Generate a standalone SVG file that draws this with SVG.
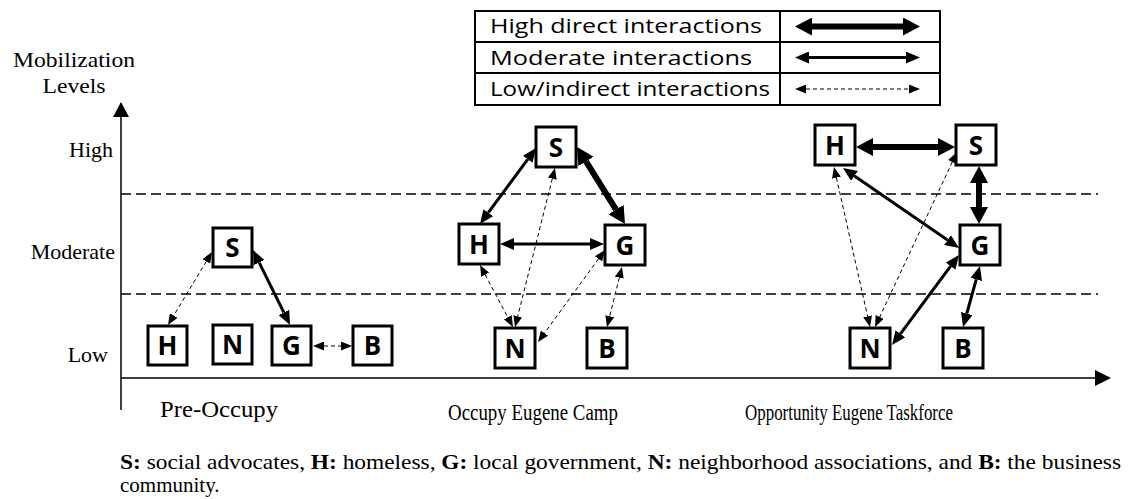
<svg xmlns="http://www.w3.org/2000/svg" width="1138" height="499" viewBox="0 0 1138 499">
<style>
.serif{font-family:"Liberation Serif","Times New Roman",serif;fill:#000}
.leg{font-family:"Open Sans","DejaVu Sans",sans-serif;font-size:20px;fill:#000}
.box{fill:#fff;stroke:#000;stroke-width:3}
.lbl{font-family:"Open Sans","DejaVu Sans",sans-serif;font-weight:bold;font-size:26px;text-anchor:middle;fill:#000}
.thin{stroke:#000;stroke-width:1;stroke-dasharray:4 3;fill:none;marker-start:url(#hThin);marker-end:url(#hThin)}
.med{stroke:#000;stroke-width:3;fill:none;marker-start:url(#hMed);marker-end:url(#hMed)}
.thick{stroke:#000;stroke-width:6;fill:none;marker-start:url(#hThick);marker-end:url(#hThick)}
.dash{stroke:#000;stroke-width:1.3;stroke-dasharray:10 5}
</style>
<defs>
<marker id="hThin" markerUnits="userSpaceOnUse" markerWidth="11" markerHeight="9" refX="0" refY="4.5" orient="auto-start-reverse"><path d="M0,0 L11,4.5 L0,9 z" fill="#000"/></marker>
<marker id="hMed" markerUnits="userSpaceOnUse" markerWidth="14" markerHeight="12" refX="0" refY="6" orient="auto-start-reverse"><path d="M0,0 L14,6 L0,12 z" fill="#000"/></marker>
<marker id="hThick" markerUnits="userSpaceOnUse" markerWidth="17" markerHeight="18" refX="0" refY="9" orient="auto-start-reverse"><path d="M0,0 L17,9 L0,18 z" fill="#000"/></marker>
</defs>
<rect width="1138" height="499" fill="#fff"/>

<g id="legend">
<rect x="475" y="11" width="465" height="94" fill="#fff" stroke="#000" stroke-width="2"/>
<line x1="475" y1="42" x2="940" y2="42" stroke="#000" stroke-width="2"/>
<line x1="475" y1="73" x2="940" y2="73" stroke="#000" stroke-width="2"/>
<line x1="780" y1="11" x2="780" y2="105" stroke="#000" stroke-width="2"/>
<text class="leg" x="490" y="33" textLength="272" lengthAdjust="spacingAndGlyphs">High direct interactions</text>
<text class="leg" x="490" y="65" textLength="262" lengthAdjust="spacingAndGlyphs">Moderate interactions</text>
<text class="leg" x="490" y="96" textLength="280" lengthAdjust="spacingAndGlyphs">Low/indirect interactions</text>
<line class="thick" x1="812" y1="26.5" x2="903" y2="26.5"/>
<line class="med" x1="809" y1="57.5" x2="906" y2="57.5"/>
<line class="thin" x1="806" y1="89" x2="909" y2="89"/>
</g>

<g id="axes">
<line x1="121" y1="116" x2="121" y2="410" stroke="#000" stroke-width="1.5"/>
<polygon points="121,102 113,117 129,117" fill="#000"/>
<line x1="121" y1="378" x2="1096" y2="378" stroke="#000" stroke-width="1.5"/>
<polygon points="1111,378 1095,370 1095,386" fill="#000"/>
<line class="dash" x1="121" y1="194" x2="1098" y2="194"/>
<line class="dash" x1="121" y1="294" x2="1098" y2="294"/>
<text class="serif" font-size="22" x="74" y="67" text-anchor="middle" textLength="122" lengthAdjust="spacingAndGlyphs">Mobilization</text>
<text class="serif" font-size="22" x="74" y="93" text-anchor="middle" textLength="63" lengthAdjust="spacingAndGlyphs">Levels</text>
<text class="serif" font-size="22" x="113" y="157" text-anchor="end">High</text>
<text class="serif" font-size="22" x="115" y="259" text-anchor="end">Moderate</text>
<text class="serif" font-size="22" x="108" y="362" text-anchor="end">Low</text>
<text class="serif" font-size="24" x="160" y="417" textLength="118" lengthAdjust="spacingAndGlyphs">Pre-Occupy</text>
<text class="serif" font-size="24" x="448" y="420" textLength="170" lengthAdjust="spacingAndGlyphs">Occupy Eugene Camp</text>
<text class="serif" font-size="24" x="745" y="420" textLength="208" lengthAdjust="spacingAndGlyphs">Opportunity Eugene Taskforce</text>
<text class="serif" font-size="21" x="120" y="469" textLength="1001" lengthAdjust="spacingAndGlyphs"><tspan font-weight="bold">S:</tspan> social advocates, <tspan font-weight="bold">H:</tspan> homeless, <tspan font-weight="bold">G:</tspan> local government, <tspan font-weight="bold">N:</tspan> neighborhood associations, and <tspan font-weight="bold">B:</tspan> the business</text>
<text class="serif" font-size="21" x="120" y="492">community.</text>
</g>

<g id="connectors">
<line class="thin" x1="206.3" y1="261.4" x2="173.7" y2="315.6"/>
<line class="med" x1="259.2" y1="262.6" x2="283.8" y2="312.4"/>
<line class="thin" x1="324" y1="346" x2="341" y2="346"/>
<line class="med" x1="527.7" y1="159.3" x2="488.3" y2="212.7"/>
<line class="thick" x1="586" y1="161.4" x2="616" y2="209.6"/>
<line class="med" x1="514" y1="244" x2="590" y2="244"/>
<line class="thin" x1="552.3" y1="178.7" x2="517.7" y2="316.3"/>
<line class="thin" x1="485.2" y1="274.7" x2="507.8" y2="317.3"/>
<line class="thin" x1="598.5" y1="258.9" x2="544.5" y2="333.1"/>
<line class="thin" x1="619.3" y1="277.7" x2="609.7" y2="316.3"/>
<line class="thick" x1="873" y1="147" x2="938" y2="147"/>
<line class="thick" x1="979" y1="183" x2="979" y2="207"/>
<line class="med" x1="854.5" y1="175.9" x2="947.5" y2="240.1"/>
<line class="med" x1="950.6" y1="266.2" x2="900.4" y2="333.8"/>
<line class="med" x1="976.2" y1="279.5" x2="966.8" y2="313.5"/>
<line class="thin" x1="836.4" y1="177.7" x2="867.6" y2="316.3"/>
<line class="thin" x1="952.3" y1="162" x2="879.7" y2="317"/>
</g>

<g id="pre-S"><rect class="box" x="213" y="228" width="39" height="39"/><text class="lbl" x="232.5" y="257">S</text></g>
<g id="pre-H"><rect class="box" x="148" y="326" width="39" height="39"/><text class="lbl" x="167.5" y="355">H</text></g>
<g id="pre-N"><rect class="box" x="213" y="325" width="39" height="39"/><text class="lbl" x="232.5" y="354">N</text></g>
<g id="pre-G"><rect class="box" x="272" y="326" width="39" height="39"/><text class="lbl" x="291.5" y="355">G</text></g>
<g id="pre-B"><rect class="box" x="353" y="326" width="39" height="39"/><text class="lbl" x="372.5" y="355">B</text></g>

<g id="camp-S"><rect class="box" x="536" y="127" width="40" height="40"/><text class="lbl" x="556" y="156.5">S</text></g>
<g id="camp-H"><rect class="box" x="459" y="224" width="40" height="40"/><text class="lbl" x="479" y="253.5">H</text></g>
<g id="camp-G"><rect class="box" x="605" y="225" width="40" height="40"/><text class="lbl" x="625" y="254.5">G</text></g>
<g id="camp-N"><rect class="box" x="495" y="328" width="40" height="40"/><text class="lbl" x="515" y="357.5">N</text></g>
<g id="camp-B"><rect class="box" x="587" y="328" width="40" height="40"/><text class="lbl" x="607" y="357.5">B</text></g>

<g id="task-H"><rect class="box" x="815" y="125" width="40" height="40"/><text class="lbl" x="835" y="154.5">H</text></g>
<g id="task-S"><rect class="box" x="956" y="125" width="40" height="40"/><text class="lbl" x="976" y="154.5">S</text></g>
<g id="task-G"><rect class="box" x="960" y="225" width="40" height="40"/><text class="lbl" x="980" y="254.5">G</text></g>
<g id="task-N"><rect class="box" x="850" y="328" width="40" height="40"/><text class="lbl" x="870" y="357.5">N</text></g>
<g id="task-B"><rect class="box" x="943" y="328" width="40" height="40"/><text class="lbl" x="963" y="357.5">B</text></g>
</svg>
